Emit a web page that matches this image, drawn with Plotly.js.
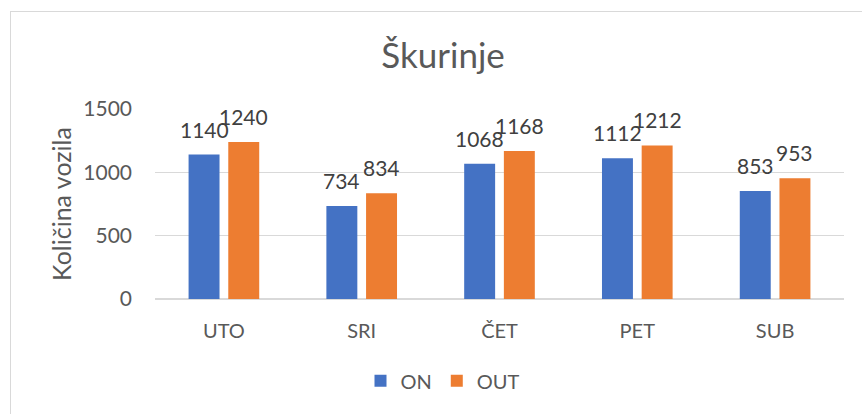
<!DOCTYPE html>
<html>
<head>
<meta charset="utf-8">
<script src="https://cdn.plot.ly/plotly-3.0.1.min.js"></script>
<style>
  html, body { margin: 0; padding: 0; background: #fff; overflow: hidden; }
  #frame { position: absolute; left: 10px; top: 11px; width: 870px; height: 420px; border: 1px solid #d9d9d9; box-sizing: border-box; pointer-events: none; z-index: 5; }
  #chart { position: absolute; left: 0; top: 0; width: 862px; height: 414px; }
</style>
</head>
<body>
<div id="chart"></div>
<div id="frame"></div>
<script>
const categories = ["UTO", "SRI", "ČET", "PET", "SUB"];
const onValues = [1140, 734, 1068, 1112, 853];
const outValues = [1240, 834, 1168, 1212, 953];
const seriesNames = ["ON", "OUT"];
const yTicks = [0, 500, 1000, 1500];

const FONT = "Lato, 'Open Sans', sans-serif";
const GREY = "#595959";

const traces = [
  { type: "bar", name: seriesNames[0], x: categories, y: onValues, marker: { color: "#4472C4" }, hoverinfo: "x+y" },
  { type: "bar", name: seriesNames[1], x: categories, y: outValues, marker: { color: "#ED7D31" }, hoverinfo: "x+y" }
];

const slotShift = 19.85;
const annotations = [];
categories.forEach((c, i) => {
  annotations.push({ x: c, y: onValues[i], xref: "x", yref: "y", text: String(onValues[i]), showarrow: false,
    xshift: -slotShift, yshift: 11, yanchor: "bottom", xanchor: "center", font: { family: FONT, size: 21, color: "#404040" } });
  annotations.push({ x: c, y: outValues[i], xref: "x", yref: "y", text: String(outValues[i]), showarrow: false,
    xshift: slotShift, yshift: 11, yanchor: "bottom", xanchor: "center", font: { family: FONT, size: 21, color: "#404040" } });
});

const layout = {
  width: 862, height: 414,
  margin: { l: 155, r: 18, t: 109, b: 115, pad: 0 },
  paper_bgcolor: "#ffffff", plot_bgcolor: "#ffffff",
  font: { family: FONT, color: GREY, size: 20 },
  title: { text: "Škurinje", font: { family: FONT, size: 35, color: GREY }, xref: "container", x: 0.514, xanchor: "center", yref: "container", y: 0.865, yanchor: "middle" },
  barmode: "group",
  bargap: 0.424,
  bargroupgap: 0.22,
  xaxis: {
    type: "category",
    showgrid: false, zeroline: false, showline: false,
    ticks: "", ticklabelstandoff: 18,
    tickfont: { family: FONT, size: 20, color: GREY },
    fixedrange: true
  },
  yaxis: {
    range: [0, 1500],
    tickvals: yTicks, ticktext: yTicks.map(String),
    showgrid: true, gridcolor: "#d9d9d9", gridwidth: 1.5,
    zeroline: true, zerolinecolor: "#d9d9d9", zerolinewidth: 1.5,
    showline: false, ticks: "", ticklabelstandoff: 22,
    tickfont: { family: FONT, size: 21, color: GREY },
    title: { text: "Količina vozila", font: { family: FONT, size: 25, color: GREY }, standoff: 4 },
    fixedrange: true
  },
  showlegend: true,
  legend: { orientation: "h", x: 0.418, xanchor: "center", xref: "paper", y: -0.43, yanchor: "middle",
    font: { family: FONT, size: 20, color: GREY }, itemwidth: 30, traceorder: "normal", bgcolor: "rgba(0,0,0,0)" },
  annotations: annotations
};

Plotly.newPlot("chart", traces, layout, { displayModeBar: false, staticPlot: true });
</script>
</body>
</html>
